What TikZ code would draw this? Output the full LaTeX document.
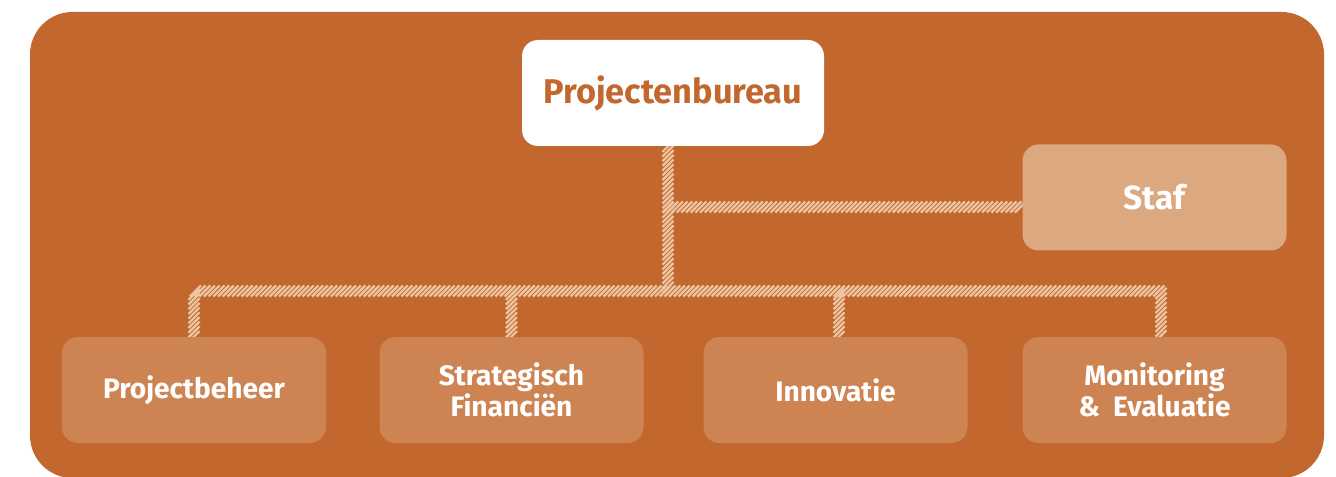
\documentclass[tikz,border=0pt]{standalone}
\usepackage{fontspec}
\setmainfont{Fira Sans}
\usetikzlibrary{decorations.markings,backgrounds}

\definecolor{rust}{HTML}{C2682F}
\definecolor{sand}{HTML}{DCA880}
\definecolor{clay}{HTML}{CE8452}
\definecolor{stripe}{HTML}{ECC6A2}

\tikzset{
  unit/.style={rounded corners=0.32cm, minimum width=5.28cm, minimum height=2.12cm,
    align=center, text=white, font=\bfseries\fontsize{16}{16.5}\selectfont},
  hatch/.style={draw=none, postaction={decorate, decoration={markings,
      mark=between positions 0 and 1 step 0.094cm with {\pgftransformresetnontranslations
        \draw[stripe, line width=0.045cm] (-0.11,-0.11) -- (0.11,0.11);}}}}
}

\begin{document}
\begin{tikzpicture}
  \useasboundingbox (0,0) rectangle (26.72,9.52);
  \node[unit, fill=white, text=rust, minimum width=6.04cm, font=\bfseries\fontsize{19.5}{21}\selectfont] (bureau) at (13.46,7.66) {Projectenbureau};
  \node[unit, fill=sand, font=\bfseries\fontsize{19}{20}\selectfont] (staf) at (23.09,5.57) {Staf};
  \node[unit, fill=clay] (beheer) at (3.88,1.72) {Projectbeheer};
  \node[unit, fill=clay] (strat) at (10.23,1.72) {Strategisch\\Financiën};
  \node[unit, fill=clay] (innov) at (16.71,1.72) {Innovatie};
  \node[unit, fill=clay] (monitor) at (23.09,1.72) {Monitoring\\\&\ \ Evaluatie};
  \coordinate (bus) at (13.36,3.7);
  \coordinate (branch) at (13.36,5.38);
  \coordinate (innovtop) at ([xshift=0.07cm]innov.north);
  \coordinate (monitortop) at ([xshift=0.13cm]monitor.north);
  \begin{scope}[on background layer]
    \fill[rust, rounded corners=0.85cm] (0.6,-0.04) rectangle (26.48,9.28);
    % lines between the units
    \draw[hatch] (bureau.south -| bus) -- (bus);
    \draw[hatch] (branch) -- (branch -| staf.west);
    \draw[hatch] (beheer.north) |- (bus) -| (monitortop);
    \draw[hatch] (strat.north) -- (strat.north |- bus);
    \draw[hatch] (innovtop) -- (innovtop |- bus);
  \end{scope}
\end{tikzpicture}
\end{document}
